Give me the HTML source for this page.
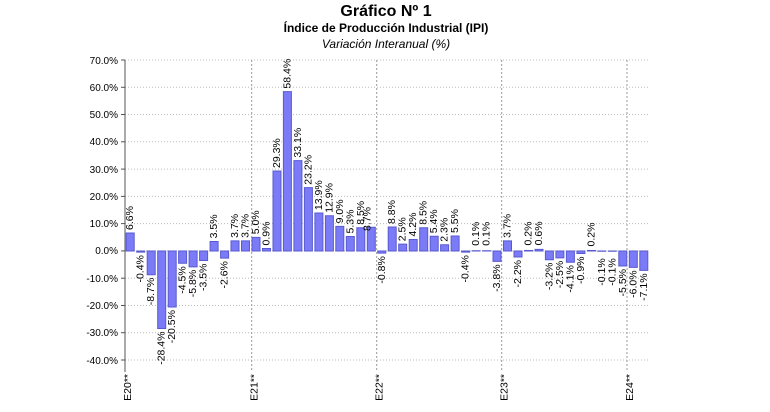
<!DOCTYPE html>
<html><head><meta charset="utf-8"><style>
body{margin:0;background:#fff;}
svg{display:block;font-family:"Liberation Sans",Arial,sans-serif;}
.l{font-size:10.5px;fill:#000;}
.y{font-size:10px;fill:#000;text-anchor:end;}
</style></head><body>
<svg width="770" height="412" viewBox="0 0 770 412">
<text x="386" y="16" font-size="16" font-weight="bold" text-anchor="middle">Gráfico Nº 1</text>
<text x="386" y="32" font-size="12" font-weight="bold" text-anchor="middle">Índice de Producción Industrial (IPI)</text>
<text x="386" y="48" font-size="12" font-style="italic" text-anchor="middle">Variación Interanual (%)</text>
<g stroke="#bbb" stroke-width="1" stroke-dasharray="1,2">
<line x1="125" x2="648" y1="60" y2="60"/><line x1="125" x2="648" y1="87.3" y2="87.3"/><line x1="125" x2="648" y1="114.5" y2="114.5"/><line x1="125" x2="648" y1="141.8" y2="141.8"/><line x1="125" x2="648" y1="169.1" y2="169.1"/><line x1="125" x2="648" y1="196.4" y2="196.4"/><line x1="125" x2="648" y1="223.6" y2="223.6"/><line x1="125" x2="648" y1="250.9" y2="250.9"/><line x1="125" x2="648" y1="278.2" y2="278.2"/><line x1="125" x2="648" y1="305.5" y2="305.5"/><line x1="125" x2="648" y1="332.7" y2="332.7"/><line x1="125" x2="648" y1="360" y2="360"/>
</g>
<g stroke="#999" stroke-width="1" stroke-dasharray="2,2">
<line x1="251.7" x2="251.7" y1="60" y2="372"/><line x1="376.7" x2="376.7" y1="60" y2="372"/><line x1="501.7" x2="501.7" y1="60" y2="372"/><line x1="627" x2="627" y1="60" y2="372"/>
</g>
<line x1="125" x2="125" y1="60" y2="372" stroke="#555"/>
<g stroke="#555"><line x1="121" x2="125" y1="60" y2="60"/><line x1="121" x2="125" y1="87.3" y2="87.3"/><line x1="121" x2="125" y1="114.5" y2="114.5"/><line x1="121" x2="125" y1="141.8" y2="141.8"/><line x1="121" x2="125" y1="169.1" y2="169.1"/><line x1="121" x2="125" y1="196.4" y2="196.4"/><line x1="121" x2="125" y1="223.6" y2="223.6"/><line x1="121" x2="125" y1="250.9" y2="250.9"/><line x1="121" x2="125" y1="278.2" y2="278.2"/><line x1="121" x2="125" y1="305.5" y2="305.5"/><line x1="121" x2="125" y1="332.7" y2="332.7"/><line x1="121" x2="125" y1="360" y2="360"/></g>
<g class="y">
<text x="118" y="64">70.0%</text><text x="118" y="91">60.0%</text><text x="118" y="118">50.0%</text><text x="118" y="145">40.0%</text><text x="118" y="173">30.0%</text><text x="118" y="200">20.0%</text><text x="118" y="227">10.0%</text><text x="118" y="254">0.0%</text><text x="118" y="282">-10.0%</text><text x="118" y="309">-20.0%</text><text x="118" y="336">-30.0%</text><text x="118" y="364">-40.0%</text>
</g>
<g transform="translate(0,251) scale(1,-2.73)" fill="#7b7bf7" stroke="#5a5ad0" stroke-width="1">
<rect vector-effect="non-scaling-stroke" x="126.2" width="8" y="0" height="6.6"/>
<rect vector-effect="non-scaling-stroke" x="136.7" width="8" y="-0.4" height="0.4"/>
<rect vector-effect="non-scaling-stroke" x="147.2" width="8" y="-8.7" height="8.7"/>
<rect vector-effect="non-scaling-stroke" x="157.7" width="8" y="-28.4" height="28.4"/>
<rect vector-effect="non-scaling-stroke" x="168.2" width="8" y="-20.5" height="20.5"/>
<rect vector-effect="non-scaling-stroke" x="178.6" width="8" y="-4.5" height="4.5"/>
<rect vector-effect="non-scaling-stroke" x="189.1" width="8" y="-5.8" height="5.8"/>
<rect vector-effect="non-scaling-stroke" x="199.6" width="8" y="-3.5" height="3.5"/>
<rect vector-effect="non-scaling-stroke" x="210.1" width="8" y="0" height="3.5"/>
<rect vector-effect="non-scaling-stroke" x="220.6" width="8" y="-2.6" height="2.6"/>
<rect vector-effect="non-scaling-stroke" x="231.0" width="8" y="0" height="3.7"/>
<rect vector-effect="non-scaling-stroke" x="241.5" width="8" y="0" height="3.7"/>
<rect vector-effect="non-scaling-stroke" x="252.0" width="8" y="0" height="5.0"/>
<rect vector-effect="non-scaling-stroke" x="262.5" width="8" y="0" height="0.9"/>
<rect vector-effect="non-scaling-stroke" x="273.0" width="8" y="0" height="29.3"/>
<rect vector-effect="non-scaling-stroke" x="283.4" width="8" y="0" height="58.4"/>
<rect vector-effect="non-scaling-stroke" x="293.9" width="8" y="0" height="33.1"/>
<rect vector-effect="non-scaling-stroke" x="304.4" width="8" y="0" height="23.2"/>
<rect vector-effect="non-scaling-stroke" x="314.9" width="8" y="0" height="13.9"/>
<rect vector-effect="non-scaling-stroke" x="325.4" width="8" y="0" height="12.9"/>
<rect vector-effect="non-scaling-stroke" x="335.8" width="8" y="0" height="9.0"/>
<rect vector-effect="non-scaling-stroke" x="346.3" width="8" y="0" height="5.3"/>
<rect vector-effect="non-scaling-stroke" x="356.8" width="8" y="0" height="8.5"/>
<rect vector-effect="non-scaling-stroke" x="367.3" width="8" y="0" height="8.7"/>
<rect vector-effect="non-scaling-stroke" x="377.8" width="8" y="-0.8" height="0.8"/>
<rect vector-effect="non-scaling-stroke" x="388.2" width="8" y="0" height="8.8"/>
<rect vector-effect="non-scaling-stroke" x="398.7" width="8" y="0" height="2.5"/>
<rect vector-effect="non-scaling-stroke" x="409.2" width="8" y="0" height="4.2"/>
<rect vector-effect="non-scaling-stroke" x="419.7" width="8" y="0" height="8.5"/>
<rect vector-effect="non-scaling-stroke" x="430.2" width="8" y="0" height="5.4"/>
<rect vector-effect="non-scaling-stroke" x="440.6" width="8" y="0" height="2.3"/>
<rect vector-effect="non-scaling-stroke" x="451.1" width="8" y="0" height="5.5"/>
<rect vector-effect="non-scaling-stroke" x="461.6" width="8" y="-0.4" height="0.4"/>
<rect vector-effect="non-scaling-stroke" x="472.1" width="8" y="0" height="0.1"/>
<rect vector-effect="non-scaling-stroke" x="482.6" width="8" y="0" height="0.1"/>
<rect vector-effect="non-scaling-stroke" x="493.0" width="8" y="-3.8" height="3.8"/>
<rect vector-effect="non-scaling-stroke" x="503.5" width="8" y="0" height="3.7"/>
<rect vector-effect="non-scaling-stroke" x="514.0" width="8" y="-2.2" height="2.2"/>
<rect vector-effect="non-scaling-stroke" x="524.5" width="8" y="0" height="0.2"/>
<rect vector-effect="non-scaling-stroke" x="535.0" width="8" y="0" height="0.6"/>
<rect vector-effect="non-scaling-stroke" x="545.4" width="8" y="-3.2" height="3.2"/>
<rect vector-effect="non-scaling-stroke" x="555.9" width="8" y="-2.5" height="2.5"/>
<rect vector-effect="non-scaling-stroke" x="566.4" width="8" y="-4.1" height="4.1"/>
<rect vector-effect="non-scaling-stroke" x="576.9" width="8" y="-0.9" height="0.9"/>
<rect vector-effect="non-scaling-stroke" x="587.4" width="8" y="0" height="0.2"/>
<rect vector-effect="non-scaling-stroke" x="597.8" width="8" y="-0.1" height="0.1"/>
<rect vector-effect="non-scaling-stroke" x="608.3" width="8" y="-0.1" height="0.1"/>
<rect vector-effect="non-scaling-stroke" x="618.8" width="8" y="-5.5" height="5.5"/>
<rect vector-effect="non-scaling-stroke" x="629.3" width="8" y="-6.0" height="6.0"/>
<rect vector-effect="non-scaling-stroke" x="639.8" width="8" y="-7.1" height="7.1"/>
</g>
<g class="l" dominant-baseline="central">
<text transform="translate(130.2,230.0) rotate(-90)">6.6%</text>
<text transform="translate(140.7,255.1) rotate(-90)" text-anchor="end">-0.4%</text>
<text transform="translate(151.2,277.8) rotate(-90)" text-anchor="end">-8.7%</text>
<text transform="translate(161.7,331.5) rotate(-90)" text-anchor="end">-28.4%</text>
<text transform="translate(172.2,310.0) rotate(-90)" text-anchor="end">-20.5%</text>
<text transform="translate(182.6,266.3) rotate(-90)" text-anchor="end">-4.5%</text>
<text transform="translate(193.1,269.8) rotate(-90)" text-anchor="end">-5.8%</text>
<text transform="translate(203.6,263.6) rotate(-90)" text-anchor="end">-3.5%</text>
<text transform="translate(214.1,238.4) rotate(-90)">3.5%</text>
<text transform="translate(224.6,261.1) rotate(-90)" text-anchor="end">-2.6%</text>
<text transform="translate(235.0,237.9) rotate(-90)">3.7%</text>
<text transform="translate(245.5,237.9) rotate(-90)">3.7%</text>
<text transform="translate(256.0,234.3) rotate(-90)">5.0%</text>
<text transform="translate(266.5,245.5) rotate(-90)">0.9%</text>
<text transform="translate(277.0,168.0) rotate(-90)">29.3%</text>
<text transform="translate(287.4,88.6) rotate(-90)">58.4%</text>
<text transform="translate(297.9,157.6) rotate(-90)">33.1%</text>
<text transform="translate(308.4,184.7) rotate(-90)">23.2%</text>
<text transform="translate(318.9,210.1) rotate(-90)">13.9%</text>
<text transform="translate(329.4,212.8) rotate(-90)">12.9%</text>
<text transform="translate(339.8,223.4) rotate(-90)">9.0%</text>
<text transform="translate(350.3,233.5) rotate(-90)">5.3%</text>
<text transform="translate(360.8,224.8) rotate(-90)">8.5%</text>
<text transform="translate(367.3,231.0) rotate(-90)">8.7%</text>
<text transform="translate(381.8,256.2) rotate(-90)" text-anchor="end">-0.8%</text>
<text transform="translate(392.2,224.0) rotate(-90)">8.8%</text>
<text transform="translate(402.7,241.2) rotate(-90)">2.5%</text>
<text transform="translate(413.2,236.5) rotate(-90)">4.2%</text>
<text transform="translate(423.7,224.8) rotate(-90)">8.5%</text>
<text transform="translate(434.2,233.3) rotate(-90)">5.4%</text>
<text transform="translate(444.6,241.7) rotate(-90)">2.3%</text>
<text transform="translate(455.1,233.0) rotate(-90)">5.5%</text>
<text transform="translate(465.6,255.1) rotate(-90)" text-anchor="end">-0.4%</text>
<text transform="translate(476.1,245.7) rotate(-90)">0.1%</text>
<text transform="translate(486.6,245.7) rotate(-90)">0.1%</text>
<text transform="translate(497.0,264.4) rotate(-90)" text-anchor="end">-3.8%</text>
<text transform="translate(507.5,237.9) rotate(-90)">3.7%</text>
<text transform="translate(518.0,260.0) rotate(-90)" text-anchor="end">-2.2%</text>
<text transform="translate(528.5,245.5) rotate(-90)">0.2%</text>
<text transform="translate(539.0,245.4) rotate(-90)">0.6%</text>
<text transform="translate(549.4,262.7) rotate(-90)" text-anchor="end">-3.2%</text>
<text transform="translate(559.9,260.8) rotate(-90)" text-anchor="end">-2.5%</text>
<text transform="translate(570.4,265.2) rotate(-90)" text-anchor="end">-4.1%</text>
<text transform="translate(580.9,256.5) rotate(-90)" text-anchor="end">-0.9%</text>
<text transform="translate(591.4,246.5) rotate(-90)">0.2%</text>
<text transform="translate(601.8,258.3) rotate(-90)" text-anchor="end">-0.1%</text>
<text transform="translate(612.3,258.3) rotate(-90)" text-anchor="end">-0.1%</text>
<text transform="translate(622.8,269.0) rotate(-90)" text-anchor="end">-5.5%</text>
<text transform="translate(633.3,270.4) rotate(-90)" text-anchor="end">-6.0%</text>
<text transform="translate(643.8,273.4) rotate(-90)" text-anchor="end">-7.1%</text>
</g>
<g class="l" dominant-baseline="central" fill="#333">
<text transform="translate(128,374) rotate(-90)" text-anchor="end">E20**</text>
<text transform="translate(254.7,374) rotate(-90)" text-anchor="end">E21**</text>
<text transform="translate(379.7,374) rotate(-90)" text-anchor="end">E22**</text>
<text transform="translate(504.7,374) rotate(-90)" text-anchor="end">E23**</text>
<text transform="translate(630,374) rotate(-90)" text-anchor="end">E24**</text>
</g>
</svg>
</body></html>
